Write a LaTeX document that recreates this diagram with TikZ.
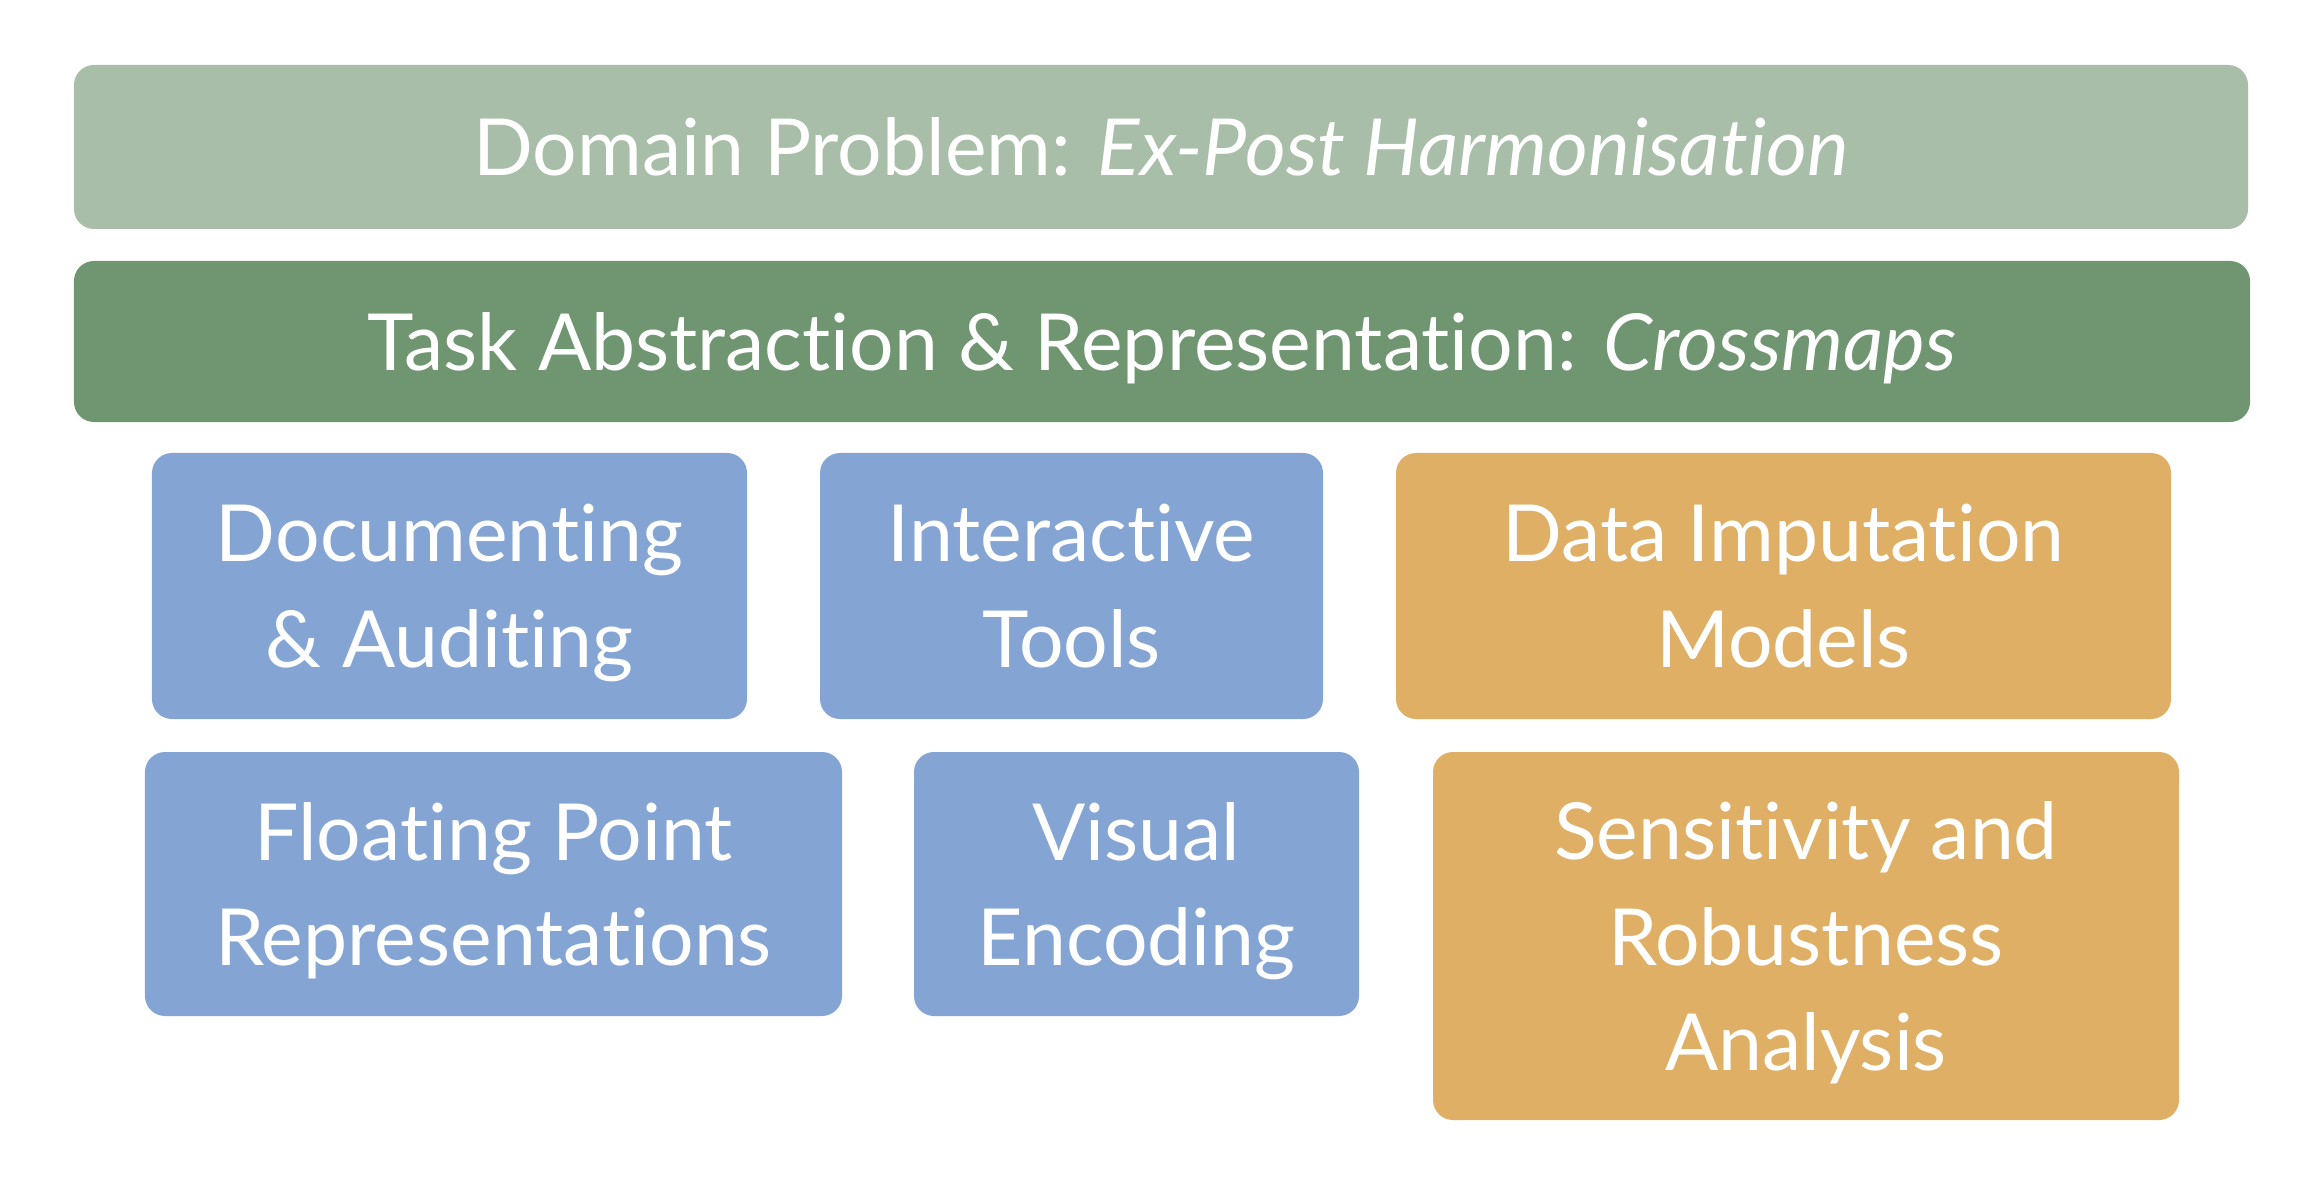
\documentclass[tikz,border=0pt]{standalone}
\usepackage{fontspec}
\setmainfont{Lato}[Ligatures=NoCommon]
\definecolor{sagelight}{HTML}{A8BEA8}
\definecolor{sagedark}{HTML}{6F9671}
\definecolor{taskblue}{HTML}{84A5D4}
\definecolor{modelorange}{HTML}{DFAF65}
\begin{document}
\begin{tikzpicture}[x=0.25mm,y=-0.25mm,
    box/.style={rectangle, rounded corners=5mm, draw=none, inner sep=0pt, align=center,
      text=white, text depth=0pt, font=\fontsize{56}{75}\selectfont},
    bluebox/.style={box, fill=taskblue},
    orangebox/.style={box, fill=modelorange}]
    \useasboundingbox (0,0) rectangle (2316,1186);

    % two layers on top
    \node [box, fill=sagelight, minimum width=543.5mm, minimum height=41mm, name=dp] at (1161,147)
      {Domain Problem: \textit{Ex-Post Harmonisation}};
    \node [box, fill=sagedark, minimum width=544mm, minimum height=40.25mm, name=ta] at (1162,341.5)
      {Task Abstraction \& Representation: \textit{Crossmaps}};

    % first row
    \node [bluebox, minimum width=148.75mm, minimum height=66.5mm, name=b1] at (449.5,586) {Documenting\\\& Auditing};
    \node [bluebox, minimum width=125.75mm, minimum height=66.5mm, name=b2] at (1071.5,586) {Interactive\\Tools};
    \node [orangebox, minimum width=193.75mm, minimum height=66.5mm, name=o1] at (1783.5,586) {Data Imputation\\Models};

    % second row
    \node [bluebox, minimum width=174.25mm, minimum height=66mm, name=b3] at (493.5,884) {Floating Point\\Representations};
    \node [bluebox, minimum width=111.25mm, minimum height=66mm, name=b4] at (1136.5,884) {Visual\\Encoding};
    \node [orangebox, minimum width=186.5mm, minimum height=92mm, name=o2] at (1806,936) {Sensitivity and\\Robustness\\Analysis};
  \end{tikzpicture}
\end{document}
